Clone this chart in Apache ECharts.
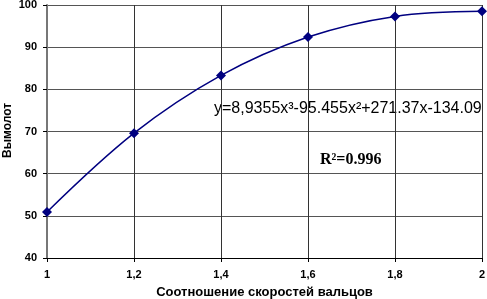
<!DOCTYPE html>
<html><head><meta charset="utf-8">
<script src="https://cdn.jsdelivr.net/npm/echarts@6/dist/echarts.min.js"></script>
<style>html,body{margin:0;padding:0;background:#fff}#c{width:487px;height:299px}</style>
</head><body><div id="c"></div>
<script>
const xValues = [1, 1.2, 1.4, 1.6, 1.8, 2];
const yValues = [50.9, 69.6, 83.3, 92.4, 97.3, 98.5];
const xTitle = 'Соотношение скоростей вальцов';
const yTitle = 'Вымолот';
const equationText = 'y=8,9355x³-95.455x²+271.37x-134.09';
const r2Text = 'R²=0.996';

const chart = echarts.init(document.getElementById('c'));
const fmt = v => { let s = (Math.round(v*10)/10).toString(); return s.replace('.', ','); };
chart.setOption({
  animation: false,
  grid: {left: 47, right: 5, top: 5, bottom: 41, containLabel: false, outerBoundsMode: 'none'},
  xAxis: {
    type: 'value', min: 1, max: 2, interval: 0.2,
    name: xTitle, nameLocation: 'middle', nameGap: 28,
    nameTextStyle: {color: '#000', fontFamily: 'Liberation Sans', fontWeight: 'bold', fontSize: 13},
    axisLine: {show: true, onZero: false, lineStyle: {color: '#000', width: 1}},
    axisTick: {show: true, length: 4, lineStyle: {color: '#000'}},
    axisLabel: {formatter: fmt, color: '#000', fontFamily: 'Liberation Sans', fontWeight: 'bold', fontSize: 11, margin: 11},
    splitLine: {show: true, lineStyle: {color: '#333', width: 1}}
  },
  yAxis: {
    type: 'value', min: 40, max: 100, interval: 10,
    axisLine: {show: true, lineStyle: {color: '#777', width: 2}},
    axisTick: {show: true, length: 4, lineStyle: {color: '#000'}},
    axisLabel: {color: '#000', fontFamily: 'Liberation Sans', fontWeight: 'bold', fontSize: 11, margin: 10},
    splitLine: {show: true, lineStyle: {color: '#555', width: 1}}
  },
  series: [{
    type: 'line',
    data: xValues.map((x, i) => [x, yValues[i]]),
    smooth: 0.35,
    symbol: 'diamond', symbolSize: 10,
    lineStyle: {color: '#000080', width: 1.5},
    itemStyle: {color: '#000080'}
  }],
  graphic: [
    {type: 'text', x: 2, y: 158, rotation: Math.PI/2, style: {text: yTitle, fill: '#000', font: 'bold 12px "Liberation Sans"'}},
    {type: 'text', left: 214, top: 101, style: {text: equationText, fill: '#000', font: '16px "Liberation Sans"', backgroundColor: '#fff'}},
    {type: 'text', left: 320, top: 152, style: {text: r2Text, fill: '#000', font: 'bold 16px "Liberation Serif"'}}
  ]
});
</script></body></html>
